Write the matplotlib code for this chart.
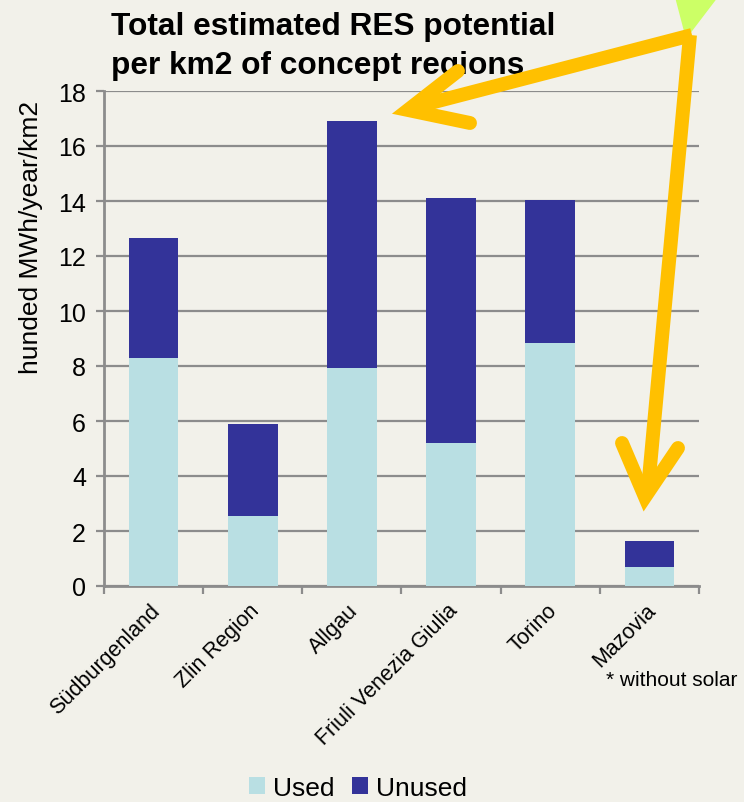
import matplotlib
matplotlib.use("Agg")
import matplotlib.pyplot as plt
from matplotlib.lines import Line2D
from matplotlib.patches import Polygon, Patch
import numpy as np

plt.rcParams['font.family'] = ['Liberation Sans', 'DejaVu Sans']

regions = ["Südburgenland", "Zlin Region", "Allgau", "Friuli Venezia Giulia", "Torino", "Mazovia"]
used = [8.3, 2.55, 7.93, 5.2, 8.84, 0.68]
total = [12.65, 5.88, 16.92, 14.1, 14.03, 1.63]
unused = [t - u for t, u in zip(total, used)]
yticks = [0, 2, 4, 6, 8, 10, 12, 14, 16, 18]

BG = "#F2F1EA"
C_USED = "#B9DFE3"
C_UNUSED = "#333399"
GRID = "#8C8C8C"
YELLOW = "#FFC000"

W, H = 744, 803
fig = plt.figure(figsize=(W / 100, H / 100), dpi=100, facecolor=BG)
ax = fig.add_axes([104 / W, 1 - 587 / H, (699 - 104) / W, (587 - 92) / H], facecolor=BG)

x = np.arange(len(regions))
ax.bar(x, used, width=0.5, color=C_USED, zorder=3, label="Used")
ax.bar(x, unused, bottom=used, width=0.5, color=C_UNUSED, zorder=3, label="Unused")

ax.set_xlim(-0.5, len(regions) - 0.5)
ax.set_ylim(0, 18)
ax.set_yticks(yticks)
ax.set_yticklabels([str(v) for v in yticks], fontsize=18)
ax.yaxis.grid(True, color=GRID, linewidth=1.6, zorder=0)
ax.set_axisbelow(True)
for s in ["top", "right"]:
    ax.spines[s].set_visible(False)
for s in ["left", "bottom"]:
    ax.spines[s].set_color(GRID)
    ax.spines[s].set_linewidth(2)
ax.tick_params(axis='y', length=6, width=1.6, color=GRID, pad=7)

# category boundary ticks on x
ax.set_xticks(np.arange(-0.5, len(regions) + 0.5, 1.0))
ax.set_xticklabels([])
ax.tick_params(axis='x', length=6, width=1.6, color=GRID)
for xi, name in zip(x, regions):
    ax.text(xi - 0.04, -0.5, name, rotation=45, ha='right', va='top',
            rotation_mode='anchor', fontsize=15.5, transform=ax.transData)

fig.text(31 / W, 1 - 237 / H, "hunded MWh/year/km2", rotation=90, fontsize=19,
         ha='center', va='center')

fig.text(111 / W, 1 - 12 / H, "Total estimated RES potential\nper km2 of concept regions",
         fontsize=22.8, fontweight='bold', ha='left', va='top', linespacing=1.38)
fig.text(606 / W, 1 - 680 / H, "* without solar", fontsize=15, ha='left', va='center')

handles = [Patch(facecolor=C_USED, label="Used"), Patch(facecolor=C_UNUSED, label="Unused")]
fig.legend(handles=handles, loc='center', bbox_to_anchor=(358 / W, 1 - 789 / H), ncol=2,
           frameon=False, fontsize=19, handlelength=0.6, handleheight=0.6,
           handletextpad=0.3, columnspacing=0.7)

# decorative triangle and arrows (figure pixel coordinates)
def fp(pts):
    return [(px / W, 1 - py / H) for px, py in pts]

tri = Polygon(fp([(675, -2), (718, -2), (686, 40)]), closed=True, transform=fig.transFigure,
              facecolor="#CCFF66", edgecolor='none', zorder=10)
fig.patches.append(tri)

lw = 10
def line(pts, cap='butt'):
    p = fp(pts)
    l = Line2D([a for a, b in p], [b for a, b in p], transform=fig.transFigure, color=YELLOW,
               linewidth=lw, solid_capstyle=cap, solid_joinstyle='miter', zorder=11)
    fig.lines.append(l)

line([(692, 36), (415, 108)])
line([(458, 72), (408, 111), (470, 124)], cap='round')
line([(690, 36), (648, 490)])
line([(622, 444), (645, 498), (678, 449)], cap='round')

fig.savefig("out.png", dpi=100, facecolor=BG)
